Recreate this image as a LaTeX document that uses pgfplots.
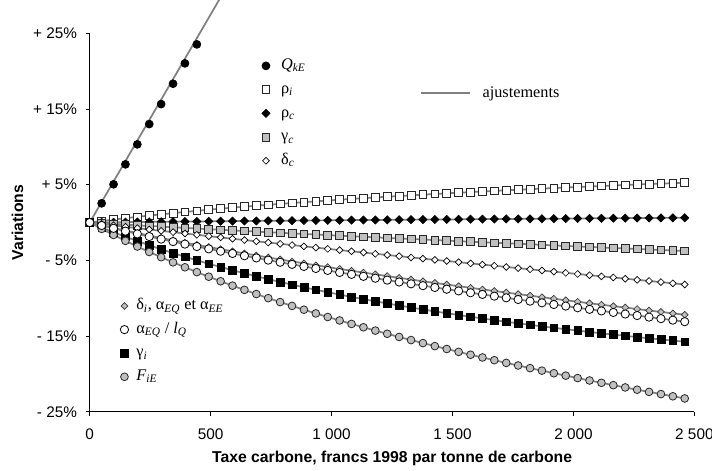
\documentclass[border=0pt]{standalone}
\usepackage{pgfplots}
\pgfplotsset{compat=1.18}
\usepackage{pgfplotstable}
\usepackage{fontspec}
\setmainfont{Liberation Sans}
\newfontfamily\tnr{Liberation Serif}
\definecolor{lgray}{RGB}{192,192,192}
\definecolor{lgline}{RGB}{128,128,128}

\pgfplotstableread{
x y
0 0
49.2 2.54
98.4 5.05
147.6 7.69
196.8 10.33
246 13.01
295.2 15.65
344.4 18.34
393.6 21.03
442.8 23.54
}\Qdata

\pgfplotstableread{
x rhoi rhoc gammac deltac deltai alpha gammai FiE
0 0 0 0 0 0 0 0 0
49.2 0.20 0.02 -0.09 -0.19 -0.36 -0.39 -0.66 -0.84
98.4 0.39 0.03 -0.19 -0.37 -0.72 -0.77 -1.28 -1.64
147.6 0.57 0.05 -0.28 -0.56 -1.06 -1.14 -1.88 -2.42
196.8 0.75 0.07 -0.37 -0.74 -1.40 -1.50 -2.45 -3.17
246 0.92 0.08 -0.45 -0.92 -1.72 -1.85 -3.00 -3.89
295.2 1.08 0.10 -0.54 -1.10 -2.04 -2.19 -3.53 -4.58
344.4 1.24 0.11 -0.63 -1.27 -2.34 -2.52 -4.04 -5.26
393.6 1.40 0.13 -0.71 -1.45 -2.65 -2.85 -4.52 -5.91
442.8 1.54 0.14 -0.79 -1.62 -2.95 -3.17 -4.99 -6.55
492 1.69 0.16 -0.88 -1.80 -3.24 -3.48 -5.45 -7.16
541.2 1.83 0.17 -0.96 -1.97 -3.52 -3.79 -5.88 -7.76
590.4 1.96 0.19 -1.04 -2.14 -3.80 -4.09 -6.30 -8.34
639.6 2.09 0.20 -1.12 -2.31 -4.08 -4.39 -6.71 -8.90
688.8 2.22 0.21 -1.20 -2.48 -4.35 -4.68 -7.10 -9.45
738 2.34 0.23 -1.28 -2.65 -4.62 -4.97 -7.48 -9.99
787.2 2.46 0.24 -1.36 -2.81 -4.88 -5.25 -7.85 -10.51
836.4 2.58 0.25 -1.43 -2.98 -5.14 -5.53 -8.21 -11.02
885.6 2.69 0.27 -1.51 -3.15 -5.39 -5.80 -8.55 -11.52
934.8 2.80 0.28 -1.59 -3.31 -5.65 -6.07 -8.89 -12.01
984 2.91 0.29 -1.66 -3.48 -5.89 -6.33 -9.21 -12.48
1033.2 3.01 0.30 -1.74 -3.64 -6.14 -6.60 -9.52 -12.94
1082.4 3.12 0.32 -1.81 -3.80 -6.37 -6.85 -9.83 -13.40
1131.6 3.22 0.33 -1.89 -3.96 -6.61 -7.11 -10.13 -13.84
1180.8 3.31 0.34 -1.96 -4.13 -6.84 -7.36 -10.41 -14.28
1230 3.41 0.35 -2.03 -4.29 -7.08 -7.61 -10.69 -14.70
1279.2 3.50 0.37 -2.11 -4.45 -7.31 -7.86 -10.97 -15.12
1328.4 3.59 0.38 -2.18 -4.61 -7.53 -8.10 -11.23 -15.53
1377.6 3.68 0.39 -2.25 -4.77 -7.76 -8.34 -11.49 -15.93
1426.8 3.77 0.40 -2.32 -4.93 -7.98 -8.58 -11.74 -16.33
1476 3.86 0.41 -2.39 -5.08 -8.19 -8.81 -11.98 -16.71
1525.2 3.94 0.42 -2.46 -5.24 -8.41 -9.04 -12.22 -17.09
1574.4 4.02 0.44 -2.53 -5.40 -8.63 -9.28 -12.45 -17.47
1623.6 4.10 0.45 -2.61 -5.56 -8.84 -9.50 -12.67 -17.83
1672.8 4.18 0.46 -2.68 -5.71 -9.05 -9.73 -12.89 -18.19
1722 4.26 0.47 -2.74 -5.87 -9.25 -9.95 -13.11 -18.55
1771.2 4.33 0.48 -2.81 -6.03 -9.46 -10.17 -13.32 -18.89
1820.4 4.41 0.49 -2.88 -6.18 -9.66 -10.39 -13.52 -19.24
1869.6 4.48 0.50 -2.95 -6.34 -9.87 -10.61 -13.72 -19.57
1918.8 4.55 0.51 -3.02 -6.49 -10.07 -10.83 -13.91 -19.91
1968 4.62 0.52 -3.09 -6.65 -10.27 -11.04 -14.10 -20.23
2017.2 4.69 0.54 -3.16 -6.80 -10.47 -11.26 -14.28 -20.55
2066.4 4.76 0.55 -3.22 -6.96 -10.67 -11.47 -14.46 -20.87
2115.6 4.83 0.56 -3.29 -7.11 -10.86 -11.68 -14.64 -21.18
2164.8 4.89 0.57 -3.36 -7.26 -11.05 -11.88 -14.81 -21.49
2214 4.96 0.58 -3.43 -7.42 -11.24 -12.09 -14.97 -21.79
2263.2 5.02 0.59 -3.49 -7.57 -11.43 -12.29 -15.14 -22.09
2312.4 5.08 0.60 -3.56 -7.72 -11.63 -12.50 -15.29 -22.38
2361.6 5.14 0.61 -3.63 -7.87 -11.81 -12.70 -15.45 -22.67
2410.8 5.20 0.62 -3.69 -8.03 -12.00 -12.90 -15.60 -22.96
2460 5.26 0.63 -3.76 -8.18 -12.18 -13.10 -15.75 -23.24
}\series

\tikzset{
 fitline/.style={draw=lgline, line width=1.3pt},
 mQ/.style={mark=*, mark size=3pt, mark options={solid, draw=black, fill=black, line width=0.5pt}},
 mRi/.style={mark=square*, mark size=2.9pt, mark options={solid, draw=black!85, fill=white, line width=0.6pt}},
 mRc/.style={mark=square*, mark size=2.2pt, mark options={solid, rotate=45, draw=black, fill=black, line width=0.4pt}},
 mGc/.style={mark=square*, mark size=2.9pt, mark options={solid, draw=black!85, fill=lgray, line width=0.6pt}},
 mDc/.style={mark=square*, mark size=1.8pt, mark options={solid, rotate=45, draw=black, fill=white, line width=0.5pt}},
 mDi/.style={mark=square*, mark size=1.8pt, mark options={solid, rotate=45, draw=black!80, fill=lgray, line width=0.5pt}},
 mA/.style={mark=*, mark size=3.1pt, mark options={solid, draw=black, fill=white, line width=0.6pt}},
 mGi/.style={mark=square*, mark size=2.9pt, mark options={solid, draw=black, fill=black, line width=0.4pt}},
 mF/.style={mark=*, mark size=2.9pt, mark options={solid, draw=black!85, fill=lgray, line width=0.6pt}},
}

\begin{document}
\begin{tikzpicture}
\begin{axis}[
 name=main,
 scale only axis, width=453.5pt, height=283.8pt,
 xmin=0, xmax=2500, ymin=-25, ymax=25,
 axis x line=bottom, axis y line=left,
 axis line style={-, line width=0.75pt, black},
 enlargelimits=false,
 clip=false,
 xtick={0,500,1000,1500,2000,2500},
 xticklabels={0,500,1 000,1 500,2 000,2 500},
 ytick={-25,-15,-5,5,15,25},
 yticklabels={- 25\%,- 15\%,- 5\%,+ 5\%,+ 15\%,+ 25\%},
 tick align=outside, major tick length=3pt,
 tick style={black, line width=0.75pt},
 ticklabel style={font=\fontsize{11.5}{13}\selectfont},
 xticklabel style={yshift=-6.5pt},
 yticklabel style={xshift=-3pt},
 xlabel={Taxe carbone, francs 1998 par tonne de carbone},
 ylabel={Variations},
 label style={font=\bfseries\fontsize{11.8}{14}\selectfont},
 xlabel style={at={([yshift=-34.7pt]axis description cs:0.5,0)}, anchor=center},
 ylabel style={at={([xshift=-54.2pt]axis description cs:0,0.5)}, anchor=center},
 legend cell align=left,
 legend style={draw=none, fill=none, inner sep=0pt, outer sep=0pt,
   at={(axis cs:728,20.7)}, anchor=north west, xshift=-3pt, yshift=8.9pt,
   row sep=0pt, column sep=8.25pt,
   font=\tnr\fontsize{12.2}{14}\selectfont,
   nodes={inner sep=0pt, text height=8.5pt, text depth=3pt, minimum height=17.8pt}},
 legend image code/.code={\path[draw=none,fill=none] (-3pt,-3pt) rectangle (3pt,3pt); \draw[#1,only marks] plot coordinates {(0pt,0pt)};},
]
\addplot[fitline, forget plot] coordinates {(0,0) (600,33.0)};
\addplot[only marks, mQ, forget plot] table[x=x,y=y] {\Qdata};
\addplot[fitline, mRi, forget plot] table[x=x,y=rhoi] {\series};
\addplot[fitline, mRc, forget plot] table[x=x,y=rhoc] {\series};
\addplot[fitline, mGc, forget plot] table[x=x,y=gammac] {\series};
\addplot[fitline, mDc, forget plot] table[x=x,y=deltac] {\series};
\addplot[fitline, mDi, forget plot] table[x=x,y=deltai] {\series};
\addplot[fitline, mGi, forget plot] table[x=x,y=gammai] {\series};
\addplot[fitline, mF, forget plot] table[x=x,y=FiE] {\series};
\addplot[fitline, mA, forget plot] table[x=x,y=alpha] {\series};

\addlegendimage{mQ}\addlegendentry{\textit{Q}\textsubscript{\textit{kE}}}
\addlegendimage{mRi}\addlegendentry{ρ\textsubscript{\textit{i}}}
\addlegendimage{mRc}\addlegendentry{ρ\textsubscript{\textit{c}}}
\addlegendimage{mGc}\addlegendentry{γ\textsubscript{\textit{c}}}
\addlegendimage{mDc}\addlegendentry{δ\textsubscript{\textit{c}}}
\end{axis}

\begin{axis}[
 at={(main.south west)}, anchor=south west,
 scale only axis, width=453.5pt, height=283.8pt,
 xmin=0, xmax=2500, ymin=-25, ymax=25, hide axis,
 legend cell align=left,
 legend style={draw=none, fill=none, inner sep=0pt, outer sep=0pt,
   at={(axis cs:143,-11.03)}, anchor=north west, xshift=-3pt, yshift=8.85pt,
   row sep=0pt, column sep=5.8pt,
   font=\tnr\fontsize{12.2}{14}\selectfont,
   nodes={inner sep=0pt, text height=8.5pt, text depth=3pt, minimum height=17.7pt}},
 legend image code/.code={\path[draw=none,fill=none] (-3pt,-3pt) rectangle (3pt,3pt); \draw[#1,only marks] plot coordinates {(0pt,0pt)};},
]
\addlegendimage{mDi}\addlegendentry{δ\textsubscript{\textit{i}}, α\textsubscript{\textit{EQ}} et α\textsubscript{\textit{EE}}}
\addlegendimage{mA}\addlegendentry{α\textsubscript{\textit{EQ}} / \textit{l}\textsubscript{\textit{Q}}}
\addlegendimage{mGi}\addlegendentry{γ\textsubscript{\textit{i}}}
\addlegendimage{mF}\addlegendentry{\textit{F}\textsubscript{\textit{iE}}}
\end{axis}

\begin{axis}[
 at={(main.south west)}, anchor=south west,
 scale only axis, width=453.5pt, height=283.8pt,
 xmin=0, xmax=2500, ymin=-25, ymax=25, hide axis,
 legend cell align=left,
 legend style={draw=none, fill=none, inner sep=0pt, outer sep=0pt,
   at={(axis cs:1366,17.07)}, anchor=north west, yshift=8.9pt,
   row sep=0pt, column sep=8.55pt,
   font=\tnr\fontsize{12.2}{14}\selectfont,
   nodes={inner sep=0pt, text height=8.5pt, text depth=3pt, minimum height=17.8pt}},
 legend image code/.code={\draw[#1] (0pt,0pt) -- (37pt,0pt);},
]
\addlegendimage{fitline}\addlegendentry{ajustements}
\end{axis}

\pgfresetboundingbox
\path ([xshift=-67.3pt,yshift=-43.7pt]main.south west) rectangle ([xshift=13.2pt,yshift=25pt]main.north east);
\end{tikzpicture}
\end{document}
